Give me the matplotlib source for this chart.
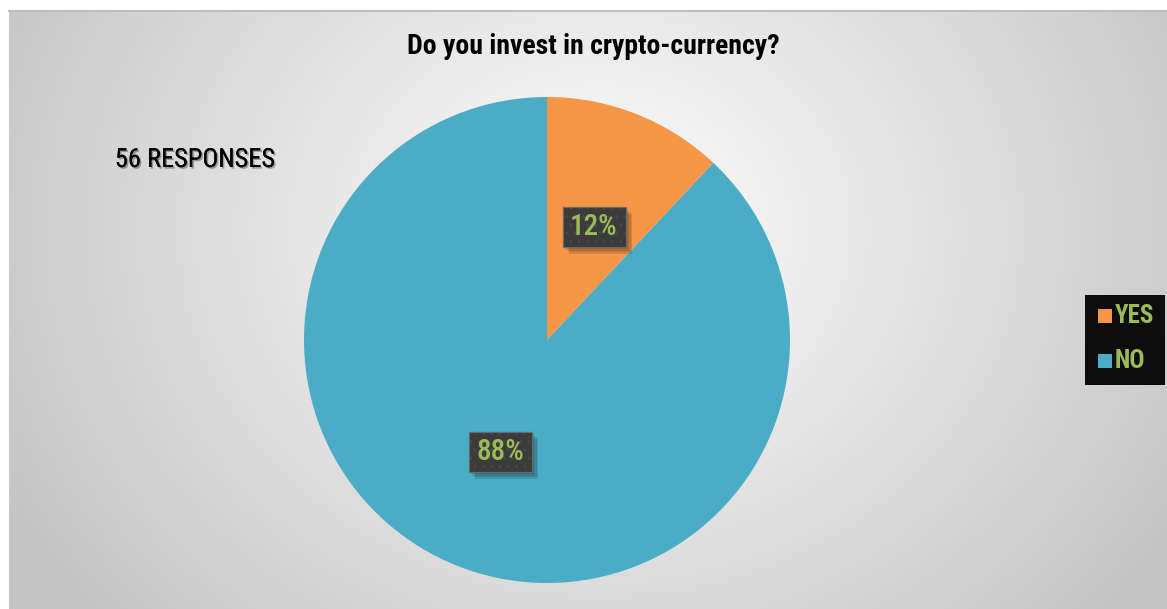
import numpy as np
import matplotlib
matplotlib.use("Agg")
import matplotlib.pyplot as plt
from matplotlib.patches import Rectangle
from matplotlib import patheffects as pe
from matplotlib import font_manager as fm

# Survey data
categories = ["YES", "NO"]
shares = [12, 88]
colors = ["#F79646", "#4BACC6"]
title = "Do you invest in crypto-currency?"
note = "56 RESPONSES"

# Pick a narrow sans face if one is available
names = {f.name for f in fm.fontManager.ttflist}
narrow_name = "DejaVu Sans"
for cand in ["Liberation Sans Narrow", "Arial Narrow", "Roboto Condensed",
             "PT Sans Narrow", "Archivo Narrow"]:
    if cand in names:
        narrow_name = cand
        break
narrow = [narrow_name, "DejaVu Sans"]

W, H = 1167, 609
fig = plt.figure(figsize=(W / 100, H / 100), dpi=100)
fig.patch.set_facecolor("white")
ax = fig.add_axes([0, 0, 1, 1])

# Chart area with a radial grey gradient
x0, x1, y0, y1 = 9, W, 0, H - 11
gx = np.linspace(x0, x1, 600)
gy = np.linspace(y1, y0, 320)
XX, YY = np.meshgrid(gx, gy)
cx, cy = 600, H - 230
r = np.hypot(XX - cx, (YY - cy) * 1.15)
t = np.clip(r / 680, 0, 1)
val = 252 - (252 - 196) * t ** 1.1
img = np.dstack([val, val, val]) / 255
ax.imshow(img, extent=[x0, x1, y0, y1], origin="upper", zorder=0,
          interpolation="bilinear", aspect="auto")
ax.plot([x0, x1], [y1, y1], color="#bdbdbd", lw=1.5, zorder=1)

# Pie
pc = (547, H - 340)
wedges, _ = ax.pie(shares, colors=colors, startangle=90, counterclock=False,
                   center=pc, radius=243, frame=True,
                   wedgeprops=dict(linewidth=0))
for w in wedges:
    w.set_zorder(2)
ax.set_xlim(0, W)
ax.set_ylim(0, H)
ax.set_aspect("equal")
ax.axis("off")


def value_box(cxp, cyp, text):
    bw, bh = 63, 40
    xl, yb = cxp - bw / 2, H - cyp - bh / 2
    for i, a in enumerate([0.08, 0.08, 0.10, 0.12]):
        off = 2 + i * 1.5
        ax.add_patch(Rectangle((xl + off, yb - off), bw, bh, facecolor="black",
                               alpha=a, lw=0, zorder=3))
    ax.add_patch(Rectangle((xl, yb), bw, bh, facecolor="#3b3b3b",
                           edgecolor="#474747", hatch="..", lw=0.8, zorder=4))
    ax.add_patch(Rectangle((xl, yb), bw, bh, facecolor="none",
                           edgecolor="#6a6a6a", lw=0.8, zorder=4))
    ax.text(cxp, H - cyp, text, ha="center", va="center", fontsize=21,
            fontweight="medium", color="#9BBB59", family=narrow, zorder=5)


value_box(594, 227, f"{shares[0]}%")
value_box(500, 452, f"{shares[1]}%")

# Title and note
ax.text(593, H - 47, title, ha="center", va="center", fontsize=20,
        fontweight="bold", family=narrow, color="black", zorder=5)
ax.text(195, H - 160, note, ha="center", va="center", fontsize=19,
        family=narrow, color="black", zorder=5,
        path_effects=[pe.withSimplePatchShadow(offset=(1.2, -1.2), alpha=0.3),
                      pe.Normal()])

# Legend
ax.add_patch(Rectangle((1085, H - 385), 80, 90, facecolor="#0d0d0d", lw=0, zorder=4))
for i, (lab, col) in enumerate(zip(categories, colors)):
    yy = H - (316 + i * 45)
    ax.add_patch(Rectangle((1098, yy - 7), 14, 14, facecolor=col, lw=0, zorder=5))
    ax.text(1115, yy, lab, ha="left", va="center", fontsize=18, fontweight="bold",
            family=narrow, color="#9BBB59", zorder=5)

fig.savefig("out.png", dpi=100, facecolor="white")
